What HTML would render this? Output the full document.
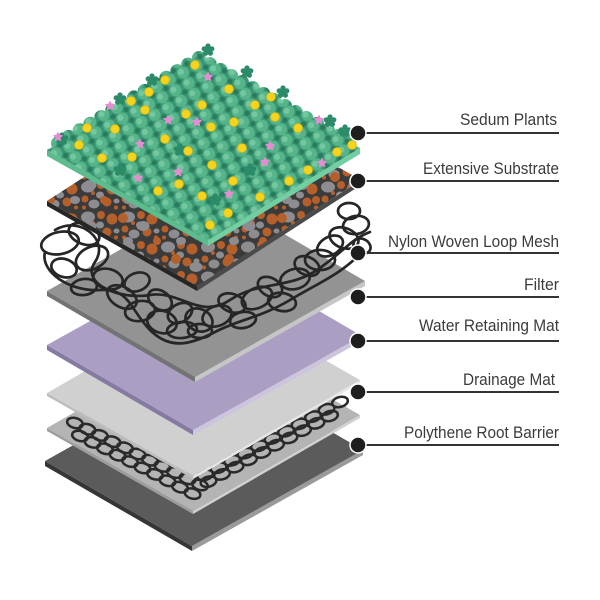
<!DOCTYPE html>
<html>
<head>
<meta charset="utf-8">
<style>
html,body{margin:0;padding:0;background:#fff;}
svg{display:block;}
text{font-family:"Liberation Sans Narrow","Liberation Sans",sans-serif;font-size:17px;fill:#3b3b3b;}
</style>
</head>
<body>
<svg width="600" height="600" viewBox="0 0 600 600" xmlns="http://www.w3.org/2000/svg">
<defs>
  <pattern id="pl" width="15" height="12" patternUnits="userSpaceOnUse" patternTransform="rotate(-28)">
    <rect width="15" height="12" fill="#3a9572"/>
    <circle cx="7.5" cy="6" r="6" fill="#56b48a"/>
    <circle cx="6" cy="4.5" r="3" fill="#75c7a0"/>
    <circle cx="0" cy="0" r="2.5" fill="#2a7a5e"/>
    <circle cx="15" cy="0" r="2.5" fill="#2a7a5e"/>
    <circle cx="0" cy="12" r="2.5" fill="#2a7a5e"/>
    <circle cx="15" cy="12" r="2.5" fill="#2a7a5e"/>
  </pattern>
  <pattern id="sb" width="40" height="30" patternUnits="userSpaceOnUse">
    <rect width="40" height="30" fill="#3b3b3b"/>
    <ellipse cx="8" cy="7" rx="7" ry="5.5" fill="#8d8d91"/>
    <circle cx="21" cy="5" r="4" fill="#b5602b"/>
    <circle cx="32" cy="9" r="5.5" fill="#b5602b"/>
    <ellipse cx="20" cy="15" rx="4" ry="3.5" fill="#8d8d91"/>
    <circle cx="5" cy="19" r="3.5" fill="#b5602b"/>
    <ellipse cx="14" cy="24" rx="5.5" ry="4.5" fill="#8d8d91"/>
    <circle cx="27" cy="22" r="4.5" fill="#b5602b"/>
    <ellipse cx="36.5" cy="21" rx="3" ry="2.5" fill="#8d8d91"/>
    <circle cx="36" cy="27.5" r="2" fill="#b5602b"/>
    <circle cx="4" cy="27.5" r="2" fill="#b5602b"/>
    <circle cx="13" cy="13" r="2" fill="#b5602b"/>
  </pattern>
  <pattern id="sb2" width="53" height="41" patternUnits="userSpaceOnUse" patternTransform="translate(7,3)">
    <circle cx="10" cy="10" r="5" fill="#b5602b"/>
    <ellipse cx="30" cy="18" rx="6.5" ry="5" fill="#8d8d91"/>
    <circle cx="44" cy="33" r="4" fill="#b5602b"/>
    <ellipse cx="15" cy="33" rx="5" ry="4" fill="#8d8d91"/>
  </pattern>
  <ellipse id="c" rx="8" ry="5" fill="none" stroke="#2a2a2a" stroke-width="2.5"/>
  <path id="st" d="M0,-4.5 L1.29,-1.78 L4.28,-1.39 L2.09,0.68 L2.65,3.64 L0,2.2 L-2.65,3.64 L-2.09,0.68 L-4.28,-1.39 L-1.29,-1.78Z" fill="#e38ed2" stroke="#e38ed2" stroke-width="1" stroke-linejoin="round"/>
  <g id="tf" fill="#2b8a68">
    <circle cx="0" cy="-4" r="2.6"/><circle cx="3.8" cy="-1.2" r="2.6"/><circle cx="2.4" cy="3.2" r="2.6"/>
    <circle cx="-2.4" cy="3.2" r="2.6"/><circle cx="-3.8" cy="-1.2" r="2.6"/><circle cx="0" cy="0" r="2"/>
  </g>
  <circle id="y" r="4.4" fill="#f6d31d" stroke="#e2bb0a" stroke-width="0.8"/>
</defs>

<!-- Dark root barrier -->
<polygon points="45,461 192,546 192,551 45,466" fill="#363636"/>
<polygon points="192,546 363,450 363,455 192,551" fill="#9a9a9a"/>
<polygon points="216,365 363,450 192,546 45,461" fill="#5b5b5b"/>

<!-- Mid gray drainage sheet -->
<polygon points="47,428 193,511 193,514 47,431" fill="#9d9d9d"/>
<polygon points="193,511 360,415 360,418 193,514" fill="#d2d2d2"/>
<polygon points="214,332 360,415 193,511 47,428" fill="#b4b4b4"/>

<!-- Coils -->
<g>
  <use href="#c" transform="translate(75,423) rotate(15)"/>
  <use href="#c" transform="translate(87.5,429.2) rotate(15)"/>
  <use href="#c" transform="translate(100,435.4) rotate(15)"/>
  <use href="#c" transform="translate(112.5,441.6) rotate(15)"/>
  <use href="#c" transform="translate(125,447.8) rotate(15)"/>
  <use href="#c" transform="translate(137.5,454) rotate(15)"/>
  <use href="#c" transform="translate(150,460.2) rotate(15)"/>
  <use href="#c" transform="translate(162.5,466.4) rotate(15)"/>
  <use href="#c" transform="translate(175,472.6) rotate(15)"/>
  <use href="#c" transform="translate(187.5,478.8) rotate(15)"/>
  <use href="#c" transform="translate(200,485) rotate(15)"/>
  <use href="#c" transform="translate(80,436) rotate(15)"/>
  <use href="#c" transform="translate(92.5,442.4) rotate(15)"/>
  <use href="#c" transform="translate(105,448.8) rotate(15)"/>
  <use href="#c" transform="translate(117.5,455.2) rotate(15)"/>
  <use href="#c" transform="translate(130,461.6) rotate(15)"/>
  <use href="#c" transform="translate(142.5,468) rotate(15)"/>
  <use href="#c" transform="translate(155,474.4) rotate(15)"/>
  <use href="#c" transform="translate(167.5,480.8) rotate(15)"/>
  <use href="#c" transform="translate(180,487.2) rotate(15)"/>
  <use href="#c" transform="translate(192.5,493.6) rotate(15)"/>
  <use href="#c" transform="translate(340,402) rotate(-15)"/>
  <use href="#c" transform="translate(326.5,409.3) rotate(-15)"/>
  <use href="#c" transform="translate(313,416.6) rotate(-15)"/>
  <use href="#c" transform="translate(299.5,423.9) rotate(-15)"/>
  <use href="#c" transform="translate(286,431.2) rotate(-15)"/>
  <use href="#c" transform="translate(272.5,438.5) rotate(-15)"/>
  <use href="#c" transform="translate(259,445.8) rotate(-15)"/>
  <use href="#c" transform="translate(245.5,453.1) rotate(-15)"/>
  <use href="#c" transform="translate(232,460.4) rotate(-15)"/>
  <use href="#c" transform="translate(218.5,467.7) rotate(-15)"/>
  <use href="#c" transform="translate(205,475) rotate(-15)"/>
  <use href="#c" transform="translate(330,416) rotate(-15)"/>
  <use href="#c" transform="translate(316.5,423.3) rotate(-15)"/>
  <use href="#c" transform="translate(303,430.6) rotate(-15)"/>
  <use href="#c" transform="translate(289.5,437.9) rotate(-15)"/>
  <use href="#c" transform="translate(276,445.2) rotate(-15)"/>
  <use href="#c" transform="translate(262.5,452.5) rotate(-15)"/>
  <use href="#c" transform="translate(249,459.8) rotate(-15)"/>
  <use href="#c" transform="translate(235.5,467.1) rotate(-15)"/>
  <use href="#c" transform="translate(222,474.4) rotate(-15)"/>
  <use href="#c" transform="translate(208.5,481.7) rotate(-15)"/>
</g>

<!-- Light gray drainage mat -->
<polygon points="47,393 193,476 193,479 47,396" fill="#bdbdbd"/>
<polygon points="193,476 360,380 360,383 193,479" fill="#e6e6e6"/>
<polygon points="214,297 360,380 193,476 47,393" fill="#d0d0d0"/>

<!-- Purple water retaining mat -->
<polygon points="47,345 193,430 193,435 47,350" fill="#857ba2"/>
<polygon points="193,430 362,336 362,341 193,435" fill="#cdc4de"/>
<polygon points="216,251 362,336 193,430 47,345" fill="#aa9fc3"/>

<!-- Filter -->
<polygon points="47,291 195,377 195,382 47,296" fill="#737373"/>
<polygon points="195,377 365,281 365,286 195,382" fill="#c6c6c6"/>
<polygon points="217,195 365,281 195,377 47,291" fill="#939393"/>

<!-- Mesh loops -->
<g fill="none" stroke="#262626" stroke-width="2.7" stroke-linecap="round">
  <ellipse cx="60" cy="243" rx="19" ry="11" transform="rotate(-12 60 243)"/>
  <ellipse cx="84" cy="234" rx="16" ry="10" transform="rotate(22 84 234)"/>
  <ellipse cx="64" cy="268" rx="13" ry="9" transform="rotate(18 64 268)"/>
  <ellipse cx="92" cy="258" rx="17" ry="11" transform="rotate(-25 92 258)"/>
  <ellipse cx="108" cy="279" rx="15" ry="10" transform="rotate(15 108 279)"/>
  <ellipse cx="84" cy="287" rx="13" ry="8" transform="rotate(-8 84 287)"/>
  <ellipse cx="122" cy="297" rx="16" ry="10" transform="rotate(30 122 297)"/>
  <ellipse cx="137" cy="282" rx="13" ry="9" transform="rotate(-20 137 282)"/>
  <ellipse cx="140" cy="311" rx="15" ry="10" transform="rotate(-10 140 311)"/>
  <ellipse cx="160" cy="300" rx="13" ry="9" transform="rotate(35 160 300)"/>
  <ellipse cx="162" cy="322" rx="15" ry="11" transform="rotate(15 162 322)"/>
  <ellipse cx="180" cy="313" rx="13" ry="9" transform="rotate(-30 180 313)"/>
  <ellipse cx="182" cy="330" rx="15" ry="8" transform="rotate(-5 182 330)"/>
  <ellipse cx="199" cy="320" rx="14" ry="11" transform="rotate(25 199 320)"/>
  <ellipse cx="200" cy="331" rx="12" ry="7"/>
  <ellipse cx="217" cy="316" rx="15" ry="10" transform="rotate(-20 217 316)"/>
  <ellipse cx="232" cy="303" rx="14" ry="9" transform="rotate(20 232 303)"/>
  <ellipse cx="243" cy="320" rx="13" ry="8" transform="rotate(-10 243 320)"/>
  <ellipse cx="257" cy="298" rx="16" ry="10" transform="rotate(-25 257 298)"/>
  <ellipse cx="270" cy="287" rx="13" ry="9" transform="rotate(30 270 287)"/>
  <ellipse cx="282" cy="302" rx="14" ry="9" transform="rotate(10 282 302)"/>
  <ellipse cx="295" cy="279" rx="15" ry="10" transform="rotate(-15 295 279)"/>
  <ellipse cx="307" cy="266" rx="13" ry="9" transform="rotate(25 307 266)"/>
  <ellipse cx="320" cy="260" rx="15" ry="10"/>
  <ellipse cx="330" cy="246" rx="14" ry="9" transform="rotate(-30 330 246)"/>
  <ellipse cx="344" cy="238" rx="15" ry="10" transform="rotate(20 344 238)"/>
  <ellipse cx="356" cy="225" rx="13" ry="9" transform="rotate(-10 356 225)"/>
  <ellipse cx="362" cy="246" rx="9" ry="7" transform="rotate(30 362 246)"/>
  <ellipse cx="349" cy="211" rx="11" ry="8"/>
  <path d="M45,252 C40,272 70,292 100,290 S130,310 150,330 S190,345 215,332 S260,318 290,300 S340,275 362,252"/>
  <path d="M55,230 C80,215 110,240 95,262 S120,300 150,295 S200,320 230,300 S290,290 320,268 S350,240 370,232"/>
</g>

<!-- Substrate -->
<polygon points="47,201 197,286 197,291 47,206" fill="#262626"/>
<polygon points="197,286 361,180 361,185 197,291" fill="#4a4a4a"/>
<polygon points="211,95 361,180 197,286 47,201" fill="url(#sb)"/>
<polygon points="211,95 361,180 197,286 47,201" fill="url(#sb2)"/>

<!-- Plants -->
<polygon points="47,150 208,240 208,246 47,156" fill="#5cbc8e"/>
<polygon points="208,240 360,148 360,154 208,246" fill="#72cfa2"/>
<polygon points="199,58 360,148 208,240 47,150" fill="url(#pl)"/>
<g fill="url(#pl)">
  <circle cx="58" cy="143.4" r="7"/><circle cx="68.7" cy="136.9" r="7"/><circle cx="79.6" cy="130.3" r="7"/>
  <circle cx="90.4" cy="123.7" r="7"/><circle cx="101.3" cy="117.1" r="7"/><circle cx="112.1" cy="110.6" r="7"/>
  <circle cx="123" cy="104" r="7"/><circle cx="133.9" cy="97.4" r="7"/><circle cx="144.7" cy="90.9" r="7"/>
  <circle cx="155.6" cy="84.3" r="7"/><circle cx="166.4" cy="77.7" r="7"/><circle cx="177.3" cy="71.1" r="7"/>
  <circle cx="188.1" cy="64.6" r="7"/><circle cx="199" cy="58" r="7"/>
  <circle cx="209.7" cy="64" r="7"/><circle cx="220.5" cy="70" r="7"/><circle cx="231.2" cy="76" r="7"/>
  <circle cx="241.9" cy="82" r="7"/><circle cx="252.7" cy="88" r="7"/><circle cx="263.4" cy="94" r="7"/>
  <circle cx="274.1" cy="100" r="7"/><circle cx="284.9" cy="106" r="7"/><circle cx="295.6" cy="112" r="7"/>
  <circle cx="306.3" cy="118" r="7"/><circle cx="317.1" cy="124" r="7"/><circle cx="327.8" cy="130" r="7"/>
  <circle cx="338.5" cy="136" r="7"/><circle cx="349.3" cy="142" r="7"/>
</g>
<g>
  <use href="#tf" transform="translate(208,50)"/>
  <use href="#tf" transform="translate(152,80)"/>
  <use href="#tf" transform="translate(247,72)"/>
  <use href="#tf" transform="translate(283,92)"/>
  <use href="#tf" transform="translate(330,121)"/>
  <use href="#tf" transform="translate(120,99)"/>
  <use href="#tf" transform="translate(62,139)"/>
  <use href="#tf" transform="translate(345,131)"/>
  <use href="#tf" transform="translate(180,150)"/>
  <use href="#tf" transform="translate(250,170)"/>
  <use href="#tf" transform="translate(215,200)"/>
  <use href="#tf" transform="translate(120,170)"/>
</g>
<g>
  <use href="#y" x="195" y="65"/><use href="#y" x="229" y="89"/><use href="#y" x="271" y="97"/>
  <use href="#y" x="149" y="92"/><use href="#y" x="131" y="101"/><use href="#y" x="165" y="80"/>
  <use href="#y" x="202" y="105"/><use href="#y" x="255" y="105"/><use href="#y" x="145" y="110"/>
  <use href="#y" x="186" y="114"/><use href="#y" x="275" y="117"/><use href="#y" x="234" y="122"/>
  <use href="#y" x="211" y="127"/><use href="#y" x="115" y="129"/><use href="#y" x="87" y="128"/>
  <use href="#y" x="298" y="128"/><use href="#y" x="165" y="139"/><use href="#y" x="79" y="145"/>
  <use href="#y" x="242" y="148"/><use href="#y" x="188" y="151"/><use href="#y" x="132" y="157"/>
  <use href="#y" x="102" y="158"/><use href="#y" x="352" y="145"/><use href="#y" x="337" y="152"/>
  <use href="#y" x="212" y="165"/><use href="#y" x="308" y="170"/><use href="#y" x="289" y="181"/>
  <use href="#y" x="179" y="184"/><use href="#y" x="233" y="181"/><use href="#y" x="158" y="191"/>
  <use href="#y" x="202" y="196"/><use href="#y" x="260" y="197"/><use href="#y" x="228" y="213"/>
  <use href="#y" x="210" y="225"/>
</g>
<g>
  <use href="#st" x="208" y="77"/><use href="#st" x="110" y="106"/><use href="#st" x="168" y="120"/>
  <use href="#st" x="197" y="122"/><use href="#st" x="319" y="120"/><use href="#st" x="58" y="137"/>
  <use href="#st" x="140" y="144"/><use href="#st" x="270" y="146"/><use href="#st" x="265" y="162"/>
  <use href="#st" x="322" y="163"/><use href="#st" x="178" y="172"/><use href="#st" x="138" y="178"/>
  <use href="#st" x="229" y="194"/>
</g>

<!-- Label lines -->
<g stroke="#333" stroke-width="2">
  <line x1="358" y1="133" x2="559" y2="133"/>
  <line x1="358" y1="181" x2="559" y2="181"/>
  <line x1="358" y1="253" x2="559" y2="253"/>
  <line x1="358" y1="297" x2="559" y2="297"/>
  <line x1="358" y1="341" x2="559" y2="341"/>
  <line x1="358" y1="392" x2="559" y2="392"/>
  <line x1="358" y1="445" x2="559" y2="445"/>
</g>
<g fill="#1e1e1e" stroke="#ffffff" stroke-width="1.5">
  <circle cx="358" cy="133" r="8"/>
  <circle cx="358" cy="181" r="8"/>
  <circle cx="358" cy="253" r="8"/>
  <circle cx="358" cy="297" r="8"/>
  <circle cx="358" cy="341" r="8"/>
  <circle cx="358" cy="392" r="8"/>
  <circle cx="358" cy="445" r="8"/>
</g>

<!-- Labels -->
<text x="460" y="125" textLength="97" lengthAdjust="spacingAndGlyphs">Sedum Plants</text>
<text x="423" y="174" textLength="136" lengthAdjust="spacingAndGlyphs">Extensive Substrate</text>
<text x="388" y="247" textLength="171" lengthAdjust="spacingAndGlyphs">Nylon Woven Loop Mesh</text>
<text x="524" y="290" textLength="35" lengthAdjust="spacingAndGlyphs">Filter</text>
<text x="419" y="331" textLength="140" lengthAdjust="spacingAndGlyphs">Water Retaining Mat</text>
<text x="463" y="385" textLength="92" lengthAdjust="spacingAndGlyphs">Drainage Mat</text>
<text x="404" y="438" textLength="155" lengthAdjust="spacingAndGlyphs">Polythene Root Barrier</text>
</svg>
</body>
</html>
